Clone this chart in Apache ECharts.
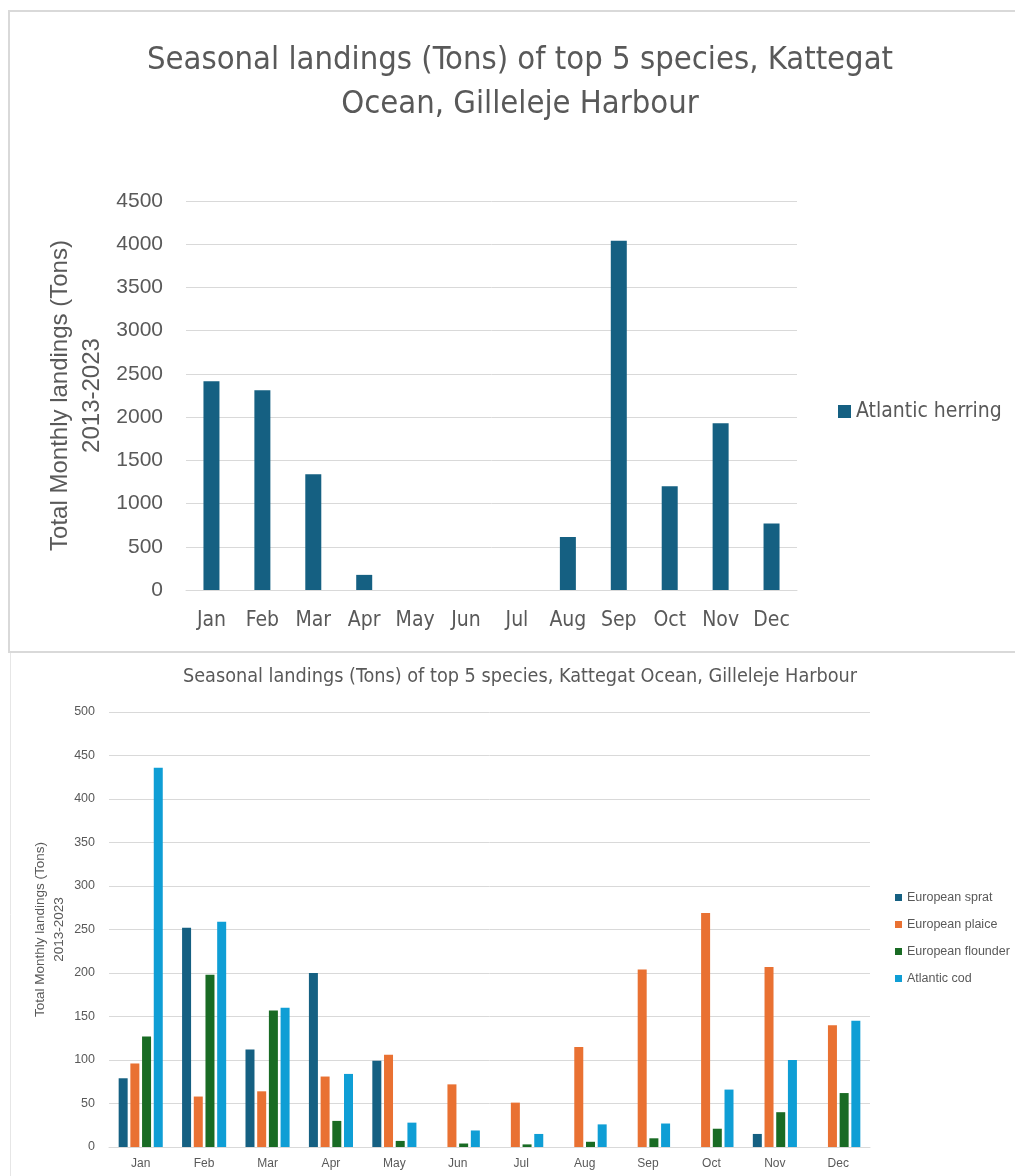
<!DOCTYPE html>
<html>
<head>
<meta charset="utf-8">
<title>Seasonal landings, Gilleleje Harbour</title>
<script src="https://cdn.jsdelivr.net/npm/echarts@6/dist/echarts.min.js"></script>
<style>
  html, body { margin: 0; padding: 0; background: #ffffff; }
  #chart { width: 1015px; height: 1176px; }
</style>
</head>
<body>
<div id="chart"></div>
<script>
// Months shared by both panels
const months = ['Jan', 'Feb', 'Mar', 'Apr', 'May', 'Jun', 'Jul', 'Aug', 'Sep', 'Oct', 'Nov', 'Dec'];

// Upper panel: Atlantic herring, total monthly landings (tons) 2013-2023
const herring = [2415, 2310, 1340, 175, 0, 0, 0, 612, 4040, 1200, 1930, 770];

// Lower panel: the other four top species (tons)
const sprat    = [79, 252, 112, 200, 99, 0, 0, 0, 0, 0, 15, 0];
const plaice   = [96, 58, 64, 81, 106, 72, 51, 115, 204, 269, 207, 140];
const flounder = [127, 198, 157, 30, 7, 4, 3, 6, 10, 21, 40, 62];
const cod      = [436, 259, 160, 84, 28, 19, 15, 26, 27, 66, 100, 145];

const herringTicks = { min: 0, max: 4500, interval: 500 };
const otherTicks = { min: 0, max: 500, interval: 50 };

const titleText = 'Seasonal landings (Tons) of top 5 species, Kattegat Ocean, Gilleleje Harbour';
const titleTopLines = ['Seasonal landings (Tons) of top 5 species, Kattegat', 'Ocean, Gilleleje Harbour'];
const axisTitle = 'Total Monthly landings (Tons)\n2013-2023';

const colors = {
  herring: '#156082',
  sprat: '#156082',
  plaice: '#E97132',
  flounder: '#196B24',
  cod: '#0F9ED5'
};

const textGrey = '#595959';
const gridGrey = '#d9d9d9';
const narrow = "'Liberation Sans Narrow', 'DejaVu Sans Condensed', 'Liberation Sans', sans-serif";
const sans = "'Liberation Sans', Arial, sans-serif";

const chart = echarts.init(document.getElementById('chart'), null, { renderer: 'canvas' });

function valueAxis(gridIndex, ticks, labelSize, labelMargin, nameSize, nameLine, nameGap) {
  return {
    type: 'value',
    gridIndex: gridIndex,
    min: ticks.min,
    max: ticks.max,
    interval: ticks.interval,
    name: axisTitle,
    nameLocation: 'middle',
    nameRotate: 90,
    nameGap: nameGap,
    nameMoveOverlap: false,
    nameTextStyle: { color: textGrey, fontSize: nameSize, lineHeight: nameLine, fontFamily: sans },
    axisLine: { show: false },
    axisTick: { show: false },
    axisLabel: {
      color: textGrey, fontSize: labelSize, fontFamily: sans, margin: labelMargin,
      formatter: function (v) { return String(v); }
    },
    splitLine: { lineStyle: { color: gridGrey, width: 1 } }
  };
}

function monthAxis(gridIndex, labelSize, labelMargin, family) {
  return {
    type: 'category',
    gridIndex: gridIndex,
    data: months,
    axisLine: { lineStyle: { color: gridGrey, width: 1 } },
    axisTick: { show: false },
    axisLabel: { color: textGrey, fontSize: labelSize, fontFamily: family, margin: labelMargin, interval: 0 }
  };
}

function lowerSeries(name, data, color) {
  return {
    name: name,
    type: 'bar',
    xAxisIndex: 1,
    yAxisIndex: 1,
    data: data,
    barWidth: 9,
    barGap: '30%',
    itemStyle: { color: color },
    emphasis: { disabled: true }
  };
}

chart.setOption({
  animation: false,
  backgroundColor: '#ffffff',
  graphic: [
    // frame around the upper panel
    { type: 'rect', shape: { x: 9, y: 11, width: 1020, height: 641 },
      style: { fill: 'none', stroke: '#d9d9d9', lineWidth: 2 }, silent: true },
    // left edge of the lower panel
    { type: 'line', shape: { x1: 10.5, y1: 653, x2: 10.5, y2: 1176 },
      style: { stroke: '#e6e6e6', lineWidth: 1 }, silent: true },
    { type: 'text', x: 520, y: 39,
      style: { text: titleTopLines.join('\n'), textAlign: 'center', fill: textGrey,
               font: "32.5px " + narrow, lineHeight: 44 }, silent: true },
    { type: 'text', x: 520, y: 667,
      style: { text: titleText, textAlign: 'center', fill: textGrey,
               font: "19.7px " + narrow }, silent: true }
  ],
  grid: [
    { left: 186, top: 201, width: 611, height: 389 },
    { left: 109, top: 712, width: 761, height: 435 }
  ],
  legend: [
    {
      data: ['Atlantic herring'],
      left: 833, top: 396,
      icon: 'rect', itemWidth: 13, itemHeight: 13,
      selectedMode: false,
      textStyle: { color: textGrey, fontSize: 21, fontFamily: narrow }
    },
    {
      data: ['European sprat', 'European plaice', 'European flounder', 'Atlantic cod'],
      orient: 'vertical',
      left: 890, top: 886,
      icon: 'rect', itemWidth: 7, itemHeight: 7, itemGap: 14,
      selectedMode: false,
      textStyle: { color: textGrey, fontSize: 12.5, fontFamily: sans }
    }
  ],
  xAxis: [
    monthAxis(0, 21, 20, narrow),
    monthAxis(1, 12, 11, sans)
  ],
  yAxis: [
    valueAxis(0, herringTicks, 21, 23, 24, 32, 78),
    valueAxis(1, otherTicks, 12.5, 14, 13.5, 19, 40)
  ],
  series: [
    {
      name: 'Atlantic herring',
      type: 'bar',
      xAxisIndex: 0,
      yAxisIndex: 0,
      data: herring,
      barWidth: 16,
      itemStyle: { color: colors.herring },
      emphasis: { disabled: true }
    },
    lowerSeries('European sprat', sprat, colors.sprat),
    lowerSeries('European plaice', plaice, colors.plaice),
    lowerSeries('European flounder', flounder, colors.flounder),
    lowerSeries('Atlantic cod', cod, colors.cod)
  ]
});
</script>
</body>
</html>
